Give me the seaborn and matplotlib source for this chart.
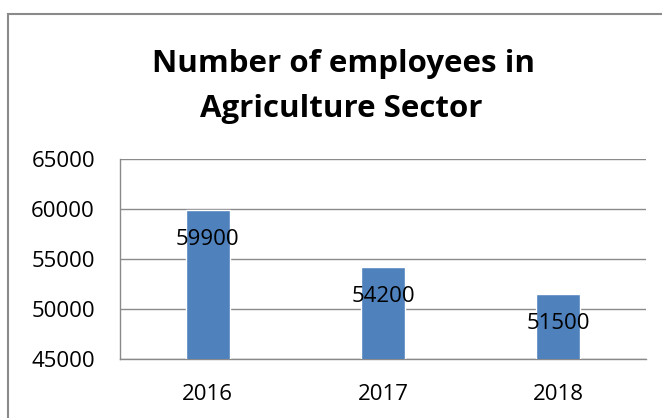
import matplotlib
matplotlib.use("Agg")
import matplotlib.pyplot as plt
from matplotlib.patches import Rectangle
import seaborn as sns
import pandas as pd

years = ["2016", "2017", "2018"]
employees = [59900, 54200, 51500]
y_ticks = [45000, 50000, 55000, 60000, 65000]
title_lines = ["Number of employees in", "Agriculture Sector"]

sns.set_theme(style="white")
plt.rcParams["font.family"] = ["Open Sans", "DejaVu Sans"]

W, H = 662, 418
fig = plt.figure(figsize=(W / 100, H / 100), dpi=100)
ax = fig.add_axes([120 / W, 1 - 359 / H, (646 - 120) / W, (359 - 159) / H])

df = pd.DataFrame({"year": years, "employees": employees})
sns.barplot(data=df, x="year", y="employees", color="#4F81BD", saturation=1,
            width=0.25, ax=ax, zorder=3)

ax.set_ylim(y_ticks[0], y_ticks[-1])
ax.set_xlim(-0.5, len(years) - 0.5)
ax.set_yticks(y_ticks)
ax.set_yticklabels([str(t) for t in y_ticks])
ax.set_xlabel("")
ax.set_ylabel("")

grid_c = "#8a8a8a"
ax.grid(axis="y", color=grid_c, linewidth=1.0, zorder=0)
ax.grid(axis="x", visible=False)
for side in ["right", "top"]:
    ax.spines[side].set_visible(False)
for side in ["left", "bottom"]:
    ax.spines[side].set_color(grid_c)
    ax.spines[side].set_linewidth(1.0)
ax.tick_params(axis="both", length=0, labelsize=16, colors="black")
ax.tick_params(axis="y", pad=18)
ax.tick_params(axis="x", pad=18)

# value labels placed inside each bar below its top
for i, v in enumerate(employees):
    ax.annotate(str(v), xy=(i, v), xytext=(0, -21.5), textcoords="offset points",
                ha="center", va="center", fontsize=16, color="black", zorder=4)

# chart title
fig.text(343 / W, 1 - 72 / H, title_lines[0], ha="center", va="baseline",
         fontsize=22.5, fontweight="bold", color="black")
fig.text(341 / W, 1 - 117 / H, title_lines[1], ha="center", va="baseline",
         fontsize=22.5, fontweight="bold", color="black")

# chart area frame (runs past the right and bottom edges)
top = 1 - 14 / H
fig.patches.append(Rectangle((8 / W, -0.5), 2.0, top + 0.5,
                             transform=fig.transFigure, fill=False,
                             edgecolor="#8a8a8a", linewidth=1.5))

fig.savefig("out.png", dpi=100)
